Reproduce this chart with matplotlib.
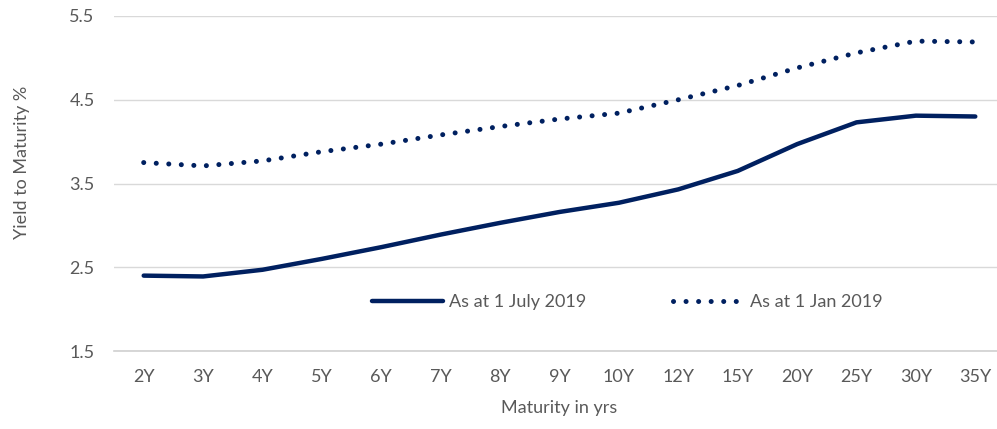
import matplotlib.pyplot as plt
from matplotlib.lines import Line2D

maturities = ['2Y', '3Y', '4Y', '5Y', '6Y', '7Y', '8Y', '9Y', '10Y',
              '12Y', '15Y', '20Y', '25Y', '30Y', '35Y']
yield_jul_2019 = [2.40, 2.39, 2.47, 2.60, 2.74, 2.89, 3.03, 3.16, 3.27,
                  3.43, 3.65, 3.97, 4.23, 4.31, 4.30]
yield_jan_2019 = [3.75, 3.71, 3.77, 3.88, 3.97, 4.08, 4.18, 4.27, 4.34,
                  4.50, 4.67, 4.88, 5.06, 5.20, 5.19]
y_ticks = [1.5, 2.5, 3.5, 4.5, 5.5]

navy = '#002060'
grey_text = '#595959'
fsize = 13

plt.rcParams['font.family'] = ['Lato', 'DejaVu Sans']

fig = plt.figure(figsize=(9.97, 4.29), dpi=100)
ax = fig.add_axes([114 / 997, 1 - 351 / 429, (1005 - 114) / 997, (351 - 16) / 429])

x = range(len(maturities))
ax.plot(x, yield_jul_2019, color=navy, linewidth=3.2, solid_capstyle='round',
        solid_joinstyle='round', label='As at 1 July 2019')
ax.plot(x, yield_jan_2019, color=navy, linewidth=3.6, linestyle=(0, (0.01, 2.5)),
        dash_capstyle='round', label='As at 1 Jan 2019')

ax.set_xlim(-0.5, len(maturities) - 0.5)
ax.set_ylim(1.5, 5.5)
ax.set_yticks(y_ticks)
ax.set_yticklabels([f'{v:.1f}' for v in y_ticks])
ax.set_xticks(list(x))
ax.set_xticklabels(maturities)

ax.grid(axis='y', color='#d9d9d9', linewidth=1.0)
ax.set_axisbelow(True)
for side in ['top', 'right', 'left']:
    ax.spines[side].set_visible(False)
ax.spines['bottom'].set_color('#d0d0d0')
ax.spines['bottom'].set_linewidth(1.2)

ax.tick_params(axis='both', length=0, labelsize=fsize, labelcolor=grey_text)
ax.tick_params(axis='y', pad=14)
ax.tick_params(axis='x', pad=13)

ax.set_xlabel('Maturity in yrs', fontsize=fsize, color=grey_text)
ax.set_ylabel('Yield to Maturity %', fontsize=fsize, color=grey_text)
ax.xaxis.set_label_coords(0.5, -0.145)
ax.yaxis.set_label_coords(-0.094, 0.563)

handles = [
    Line2D([], [], color=navy, linewidth=3.2, solid_capstyle='round'),
    Line2D([], [], color=navy, linewidth=3.6, linestyle=(0, (0.01, 2.5)), dash_capstyle='round'),
]
ax.legend(handles, ['As at 1 July 2019', 'As at 1 Jan 2019'], ncol=2, frameon=False,
          loc='center', bbox_to_anchor=(0.576, 0.146), fontsize=fsize,
          labelcolor=grey_text, handlelength=3.9, handletextpad=0.35, columnspacing=4.8)

fig.savefig('out.png', dpi=100)
